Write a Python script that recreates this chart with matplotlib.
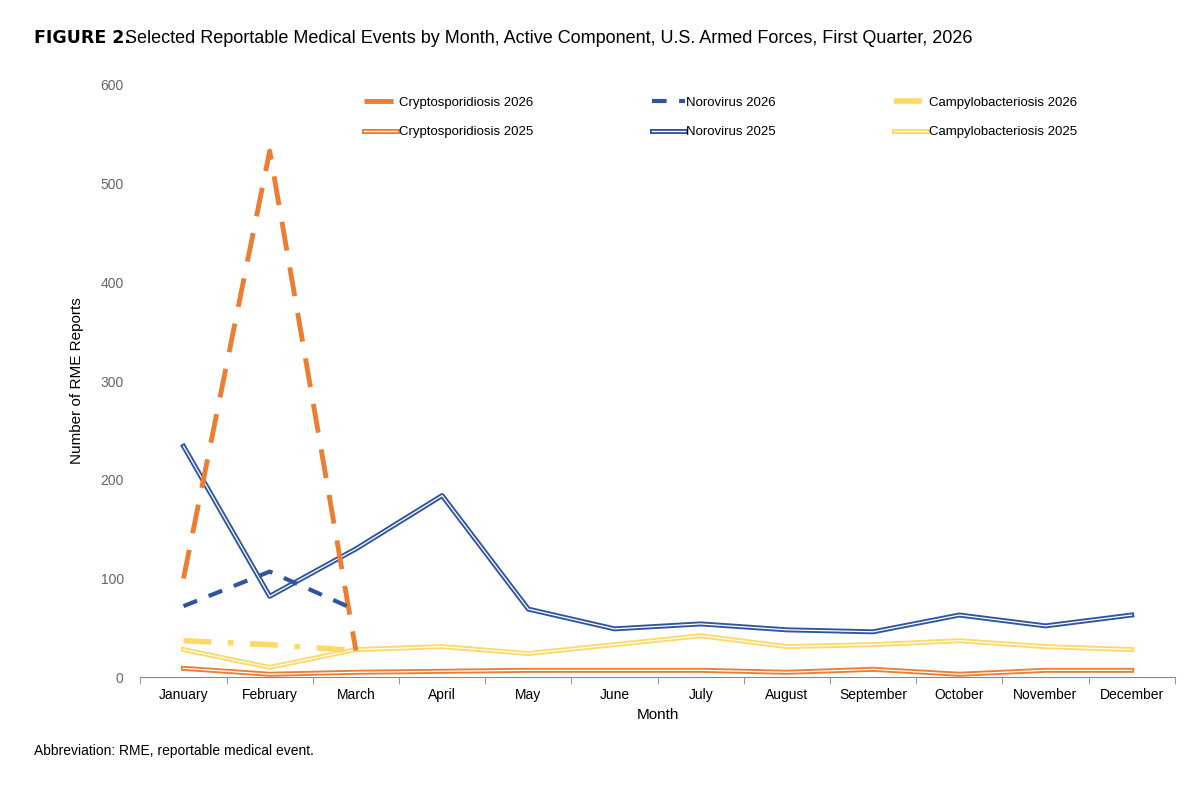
import matplotlib.pyplot as plt
import matplotlib.patheffects as pe

months = ['January', 'February', 'March', 'April', 'May', 'June', 'July',
          'August', 'September', 'October', 'November', 'December']
crypto_2026 = [100, 533, 27]
noro_2026 = [72, 107, 68]
campy_2026 = [37, 33, 27]
crypto_2025 = [9, 3, 5, 6, 7, 7, 7, 5, 8, 3, 7, 7]
noro_2025 = [234, 82, 130, 184, 69, 49, 54, 48, 46, 63, 52, 63]
campy_2025 = [28, 10, 28, 31, 24, 33, 42, 31, 33, 37, 31, 28]

orange = '#ED7D31'
blue = '#2F55A0'
yellow = '#FFD966'

plt.rcParams['font.family'] = ['Liberation Sans', 'DejaVu Sans']
fig = plt.figure(figsize=(12, 7.93), dpi=100)
ax = fig.add_axes([0.117, 0.146, 0.862, 0.747])

x = list(range(12))


def double(c):
    return [pe.Stroke(linewidth=3.6, foreground=c), pe.Stroke(linewidth=0.9, foreground='white')]


ax.plot(x, campy_2025, color=yellow, lw=3.6, path_effects=double(yellow), label='Campylobacteriosis 2025', zorder=2)
ax.plot(x, crypto_2025, color=orange, lw=3.6, path_effects=double(orange), label='Cryptosporidiosis 2025', zorder=2)
ax.plot(x, noro_2025, color=blue, lw=3.6, path_effects=double(blue), label='Norovirus 2025', zorder=2)
ax.plot(x[:3], crypto_2026, color=orange, lw=3.5, dashes=(6, 3.5), label='Cryptosporidiosis 2026', zorder=3)
ax.plot(x[:3], noro_2026, color=blue, lw=3, dashes=(3.5, 3), label='Norovirus 2026', zorder=3)
ax.plot(x[:3], campy_2026, color=yellow, lw=4, dashes=(5, 3, 1, 3), label='Campylobacteriosis 2026', zorder=3)

h, l = ax.get_legend_handles_labels()
order = [3, 1, 4, 2, 5, 0]
ax.legend([h[i] for i in order], [l[i] for i in order], ncol=3, frameon=False,
          loc='upper left', bbox_to_anchor=(0.205, 1.0), fontsize=9.5, handlelength=2.5,
          handletextpad=0.1, columnspacing=9, labelspacing=1.3)

ax.set_xlim(-0.5, 11.5)
ax.set_ylim(0, 600)
ax.set_xticks(x)
ax.set_xticklabels(months, fontsize=10)
ax.set_xticks([i - 0.5 for i in range(13)], minor=True)
ax.tick_params(axis='x', which='major', length=0, pad=8)
ax.tick_params(axis='x', which='minor', length=5, color='#888888')
ax.set_yticks(range(0, 601, 100))
ax.tick_params(axis='y', length=0, labelsize=10, labelcolor='#666666', pad=12)
for s in ['top', 'right', 'left']:
    ax.spines[s].set_visible(False)
ax.spines['bottom'].set_color('#888888')
ax.set_xlabel('Month', fontsize=11)
ax.set_ylabel('Number of RME Reports', fontsize=11, labelpad=12)

fig.text(0.028, 0.952, 'FIGURE 2.', fontsize=12.5, fontweight='bold', family='Liberation Sans Narrow', va='center')
fig.text(0.104, 0.952, 'Selected Reportable Medical Events by Month, Active Component, U.S. Armed Forces, First Quarter, 2026',
         fontsize=13, va='center')
fig.text(0.028, 0.053, 'Abbreviation: RME, reportable medical event.', fontsize=10, va='center')

fig.savefig('out.png')
